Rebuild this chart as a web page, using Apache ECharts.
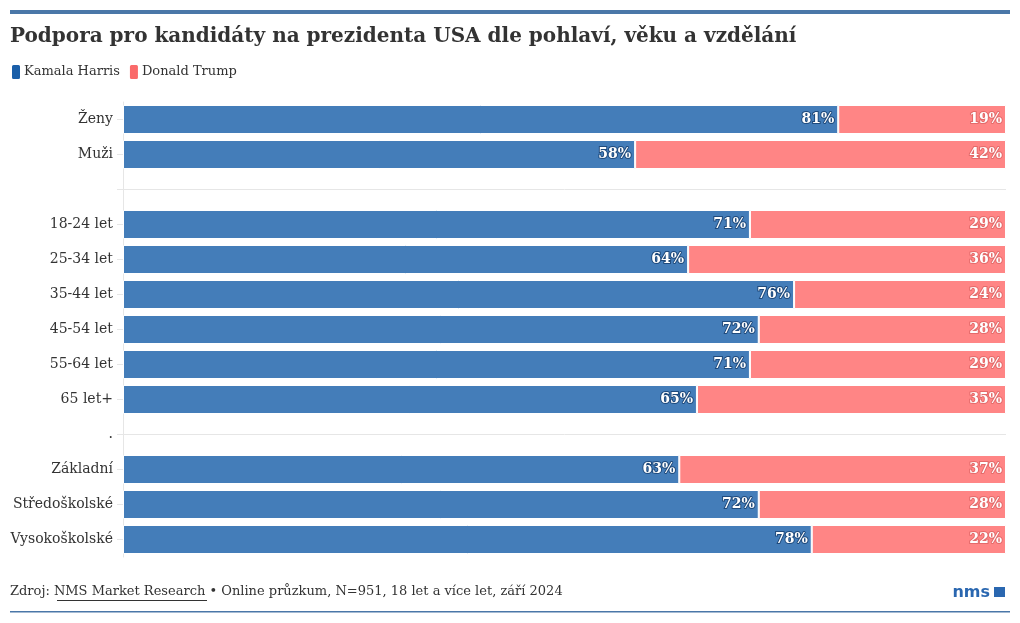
<!DOCTYPE html>
<html>
<head>
<meta charset="utf-8">
<script src="https://cdn.jsdelivr.net/npm/echarts@6/dist/echarts.min.js"></script>
<style>
html,body{margin:0;padding:0;background:#fff;}
#chart{width:1020px;height:623px;}
</style>
</head>
<body>
<div id="chart"></div>
<script>
const categories = ['Ženy','Muži','','18-24 let','25-34 let','35-44 let','45-54 let','55-64 let','65 let+','.','Základní','Středoškolské','Vysokoškolské'];
const harris = [81,58,null,71,64,76,72,71,65,null,63,72,78];
const trump  = [19,42,null,29,36,24,28,29,35,null,37,28,22];
const seriesNames = ['Kamala Harris','Donald Trump'];

const FONT = '"DejaVu Serif", serif';
const chart = echarts.init(document.getElementById('chart'));
function labelCfg(outline) {
  return {
    show: true, position: 'insideRight', formatter: p => p.value == null ? '' : p.value + '%',
    color: '#fff', fontFamily: FONT, fontWeight: 'bold', fontSize: 14,
    textBorderColor: outline, textBorderWidth: 2, distance: 4
  };
}
chart.setOption({
  animation: false,
  textStyle: {fontFamily: FONT},
  title: {
    text: 'Podpora pro kandidáty na prezidenta USA dle pohlaví, věku a vzdělání',
    left: 5, top: 22,
    textStyle: {fontFamily: FONT, fontWeight: 'bold', fontSize: 20, color: '#333'}
  },
  legend: {
    left: 5, top: 58, itemWidth: 10, itemHeight: 16, itemGap: 8,
    icon: 'roundRect',
    data: [
      {name: seriesNames[0], itemStyle: {color: '#1a5fa9'}},
      {name: seriesNames[1], itemStyle: {color: '#fa6a6a'}}
    ],
    textStyle: {fontFamily: FONT, fontSize: 13, color: '#333', padding: [0,0,0,-2]}
  },
  grid: {left: 123, right: 14, top: 102, bottom: 66, containLabel: false},
  xAxis: {type: 'value', min: 0, max: 100, show: false},
  yAxis: {
    type: 'category', inverse: true, data: categories,
    axisLine: {show: true, lineStyle: {color: '#e6e6e6'}},
    axisTick: {show: true, alignWithLabel: true, length: 6, lineStyle: {color: '#e6e6e6'}},
    splitLine: {show: true, alignWithLabel: true, lineStyle: {color: '#e6e6e6'}},
    axisLabel: {fontFamily: FONT, fontSize: 14, color: '#333', margin: 10}
  },
  series: [
    {name: seriesNames[0], type: 'bar', stack: 'a', data: harris, barWidth: 29,
     itemStyle: {color: '#447db9', borderColor: '#fff', borderWidth: 1}, label: labelCfg('#1f4a7c')},
    {name: seriesNames[1], type: 'bar', stack: 'a', data: trump, barWidth: 29,
     itemStyle: {color: '#ff8585', borderColor: '#fff', borderWidth: 1}, label: labelCfg('#e46a6a')}
  ],
  graphic: [
    {type: 'rect', shape: {x: 10, y: 10, width: 1000, height: 4}, style: {fill: '#4a77a8'}},
    {type: 'rect', shape: {x: 10, y: 611, width: 1000, height: 1.5}, style: {fill: '#4a77a8'}},
    {type: 'text', left: 10, top: 585, style: {
      rich: {n: {fontFamily: FONT, fontSize: 13, fill: '#333'},
             u: {fontFamily: FONT, fontSize: 13, fill: '#333'}},
      text: '{n|Zdroj: }{u|NMS Market Research}{n| • Online průzkum, N=951, 18 let a více let, září 2024}'
    }},
    {type: 'rect', shape: {x: 57, y: 600, width: 150, height: 1}, style: {fill: '#333'}},
    {type: 'text', right: 30, top: 585, style: {
      text: 'nms', fontFamily: '"DejaVu Sans", sans-serif', fontWeight: 'bold', fontSize: 16, fill: '#2a67b0'
    }},
    {type: 'rect', right: 15, top: 587, shape: {x: 0, y: 0, width: 11, height: 10}, style: {fill: '#2a67b0'}}
  ]
});
</script>
</body>
</html>
